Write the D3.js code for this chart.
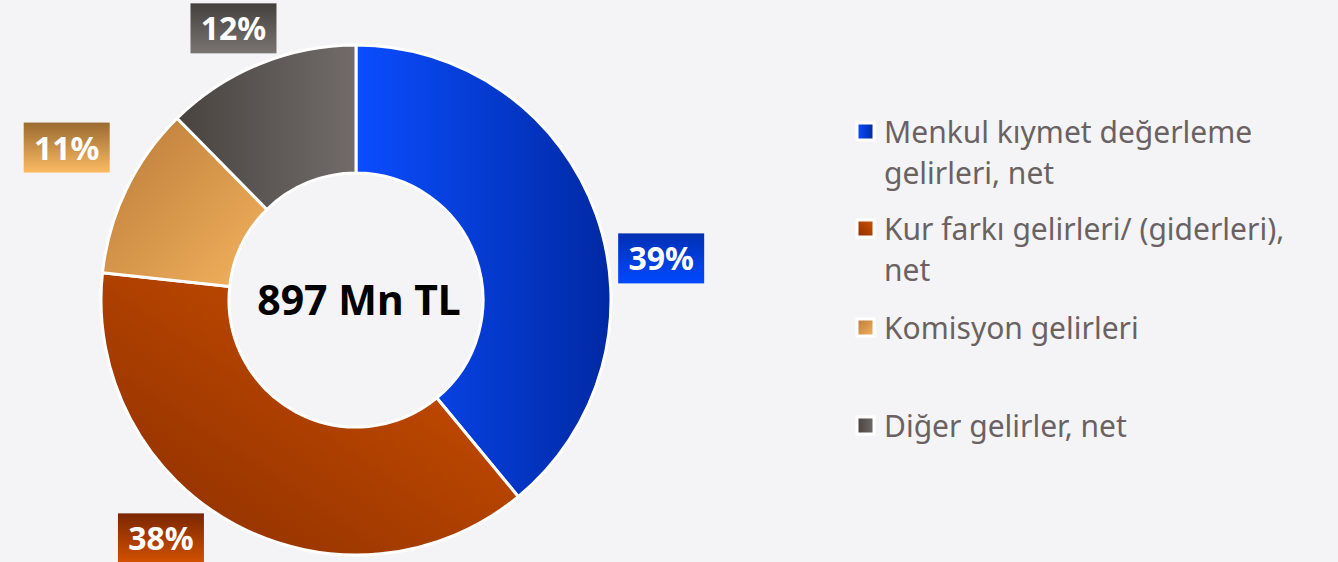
<!DOCTYPE html>
<html>
<head>
<meta charset="utf-8">
<script src="https://cdn.jsdelivr.net/npm/d3@7"></script>
<style>
  html, body { margin: 0; padding: 0; background: #f4f4f6; }
  svg { display: block; }
</style>
</head>
<body>
<div id="chart"></div>
<script>
// dilimler (Mn TL)
var categories = ["Menkul kıymet değerleme\ngelirleri, net", "Kur farkı gelirleri/ (giderleri),\nnet", "Komisyon gelirleri", "Diğer gelirler, net"];
var values = [350, 338, 98, 111];
var totalLabel = "897 Mn TL";

var width = 1338, height = 562;
var cx = 356, cy = 300, outerR = 255, innerR = 127;

// renkler: [koyu, açık] gradyan uçları
var sliceColors = [
  ["#0a4dff", "#0029a3"],
  ["#8a2e00", "#c44b00"],
  ["#b87a38", "#f5b35e"],
  ["#48433f", "#716c69"]
];
var boxColors = [
  ["#0030b3", "#0049ff"],
  ["#7a2600", "#d35200"],
  ["#9a6a30", "#fbbb62"],
  ["#43403e", "#7a7572"]
];
// etiket konumu için açı kaydırma (derece) ve uzaklık
var labelShift = [12, 11, 2, -2];
var labelDist = [308, 308, 327, 298];

var svg = d3.select("#chart").append("svg")
  .attr("width", width)
  .attr("height", height);

var defs = svg.append("defs");

// dilim gradyanları
var gradDirs = [
  {x1: 0, y1: 0, x2: 1, y2: 0},
  {x1: 0, y1: 1, x2: 0.8, y2: 0.2},
  {x1: 0, y1: 0, x2: 1, y2: 1},
  {x1: 0, y1: 0, x2: 1, y2: 0}
];
sliceColors.forEach(function(c, i) {
  var g = defs.append("linearGradient")
    .attr("id", "sg" + i)
    .attr("x1", gradDirs[i].x1).attr("y1", gradDirs[i].y1)
    .attr("x2", gradDirs[i].x2).attr("y2", gradDirs[i].y2);
  g.append("stop").attr("offset", "0%").attr("stop-color", c[0]);
  g.append("stop").attr("offset", "100%").attr("stop-color", c[1]);
});
boxColors.forEach(function(c, i) {
  var g = defs.append("linearGradient")
    .attr("id", "bg" + i)
    .attr("x1", 0).attr("y1", 0).attr("x2", 0).attr("y2", 1);
  g.append("stop").attr("offset", "0%").attr("stop-color", c[0]);
  g.append("stop").attr("offset", "100%").attr("stop-color", c[1]);
});

var total = d3.sum(values);

var pie = d3.pie().sort(null).value(function(d) { return d; });
var arcs = pie(values);

var arc = d3.arc().innerRadius(innerR).outerRadius(outerR);

var g = svg.append("g")
  .attr("transform", "translate(" + cx + "," + cy + ")");

g.selectAll("path")
  .data(arcs)
  .enter()
  .append("path")
  .attr("d", arc)
  .style("fill", function(d, i) { return "url(#sg" + i + ")"; })
  .style("stroke", "#ffffff")
  .style("stroke-width", 3)
  .style("stroke-linejoin", "round");

// orta yazı
g.append("text")
  .attr("text-anchor", "middle")
  .attr("x", 3)
  .attr("y", 15)
  .style("font-family", "'Noto Sans', sans-serif")
  .style("font-weight", "bold")
  .style("font-size", "41px")
  .style("fill", "#000")
  .text(totalLabel);

// yüzde etiketleri
var boxW = 86, boxH = 50;
var lbl = g.selectAll("g.lbl")
  .data(arcs)
  .enter()
  .append("g")
  .attr("class", "lbl")
  .attr("transform", function(d, i) {
    var a = (d.startAngle + d.endAngle) / 2 + labelShift[i] * Math.PI / 180;
    var x = Math.sin(a) * labelDist[i], y = -Math.cos(a) * labelDist[i];
    return "translate(" + x + "," + y + ")";
  });

lbl.append("rect")
  .attr("x", -boxW / 2).attr("y", -boxH / 2)
  .attr("width", boxW).attr("height", boxH)
  .style("fill", function(d, i) { return "url(#bg" + i + ")"; });

lbl.append("text")
  .attr("text-anchor", "middle")
  .attr("y", 12)
  .style("font-family", "'Noto Sans', sans-serif")
  .style("font-weight", "bold")
  .style("font-size", "32px")
  .style("fill", "#ffffff")
  .text(function(d) { return Math.round(d.data / total * 100) + "%"; });

// lejant
var legendY = [143, 240, 339, 437];
var legend = svg.append("g").attr("transform", "translate(856,0)");
var items = legend.selectAll("g.item")
  .data(categories)
  .enter()
  .append("g")
  .attr("class", "item")
  .attr("transform", function(d, i) { return "translate(0," + legendY[i] + ")"; });

items.append("rect")
  .attr("x", 1).attr("y", -20)
  .attr("width", 17).attr("height", 17)
  .style("fill", function(d, i) { return "url(#sg" + i + ")"; })
  .style("stroke", "#ffffff")
  .style("stroke-width", 3);

items.append("text")
  .style("font-family", "'Noto Sans', sans-serif")
  .style("font-size", "30px")
  .style("fill", "#6a6262")
  .each(function(d) {
    var t = d3.select(this);
    d.split("\n").forEach(function(line, k) {
      t.append("tspan").attr("x", 28).attr("y", k * 41).text(line);
    });
  });
</script>
</body>
</html>
